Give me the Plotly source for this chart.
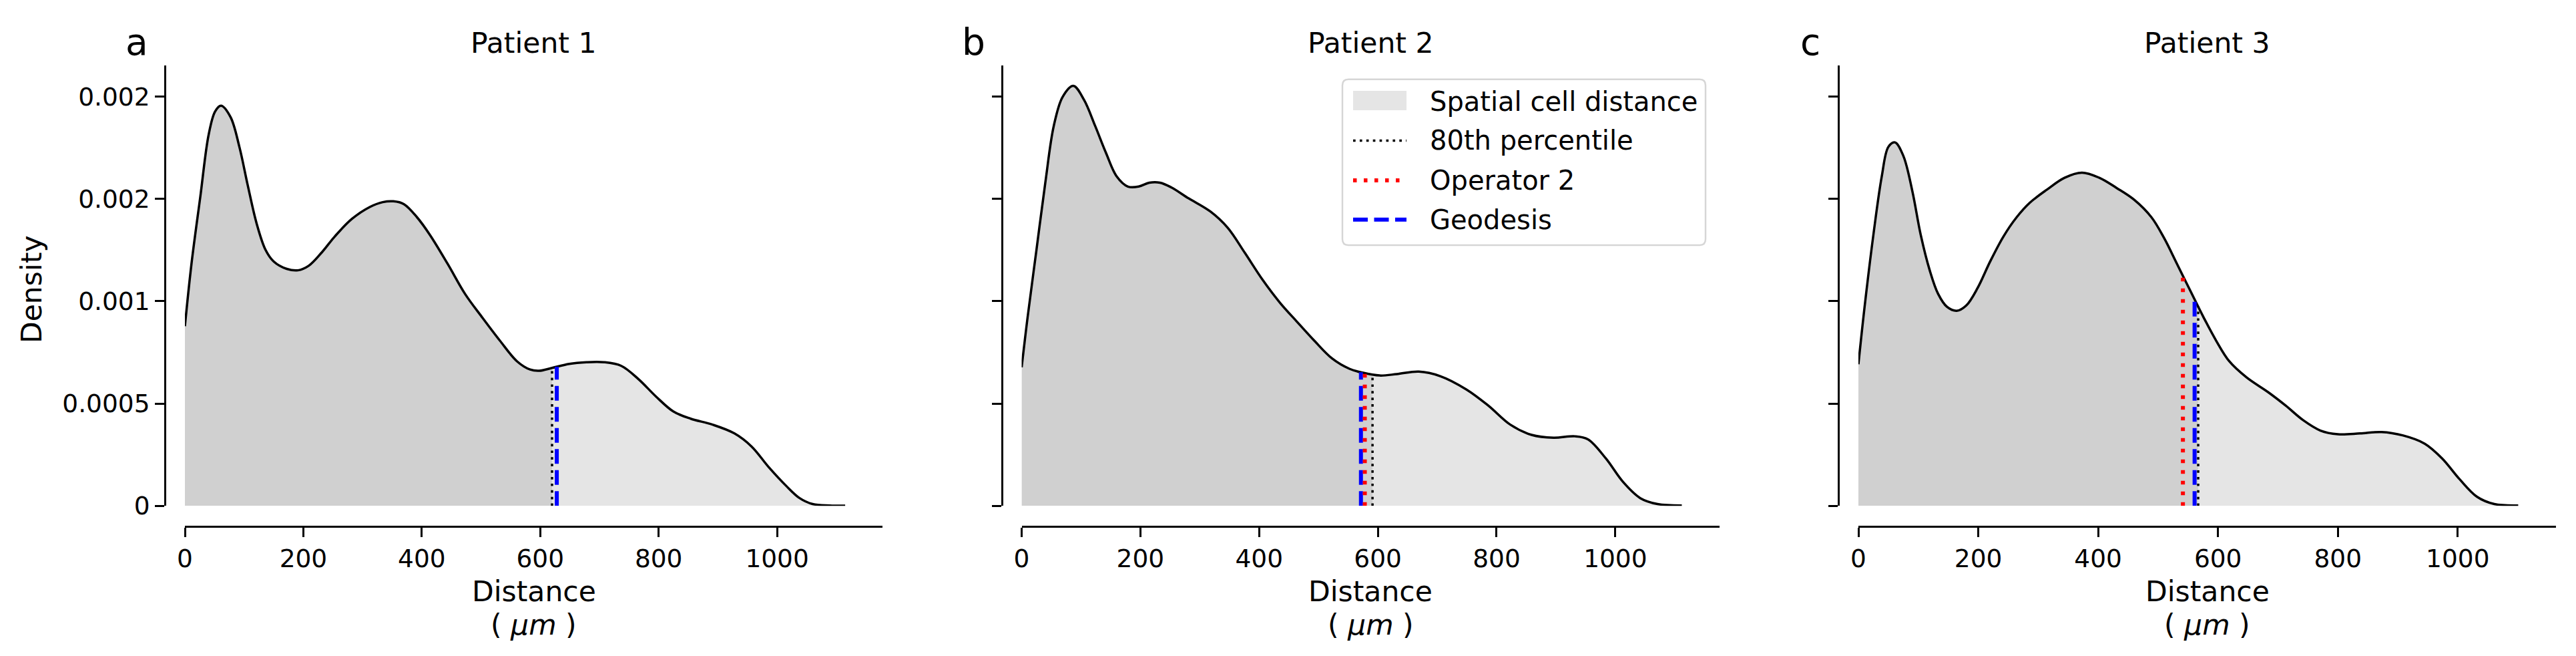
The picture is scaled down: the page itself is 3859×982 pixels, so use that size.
import plotly.graph_objects as go

# ── Data ─────────────────────────────────────────────────────────────────────
patients = ['Patient 1', 'Patient 2', 'Patient 3']
letters = ['a', 'b', 'c']

# KDE of spatial cell distance (µm) -> density
p1_x = [0, 11, 26, 40, 51, 61, 77, 92, 106, 121, 136, 150, 172, 191, 209, 231,
        253, 282, 312, 334, 352, 370, 392, 414, 444, 473, 502, 532, 561, 583,
        598, 620, 649, 678, 708, 737, 766, 796, 825, 854, 891, 928, 957, 986,
        1016, 1038, 1060, 1089, 1115]
p1_y = [8.78e-4, 11.80e-4, 15.10e-4, 18.12e-4, 19.27e-4, 19.55e-4, 19.00e-4,
        17.54e-4, 15.68e-4, 13.81e-4, 12.52e-4, 11.94e-4, 11.58e-4, 11.51e-4,
        11.73e-4, 12.38e-4, 13.16e-4, 14.02e-4, 14.60e-4, 14.84e-4, 14.88e-4,
        14.74e-4, 14.10e-4, 13.23e-4, 11.81e-4, 10.36e-4, 9.21e-4, 8.07e-4,
        7.06e-4, 6.66e-4, 6.60e-4, 6.74e-4, 6.94e-4, 7.02e-4, 7.02e-4, 6.84e-4,
        6.19e-4, 5.33e-4, 4.61e-4, 4.26e-4, 3.97e-4, 3.54e-4, 2.90e-4, 1.89e-4,
        0.96e-4, 0.38e-4, 0.09e-4, 0.02e-4, 0.01e-4]

p2_x = [0, 10, 25, 40, 54, 69, 87, 105, 124, 142, 160, 179, 197, 215, 233, 252,
        281, 318, 347, 376, 405, 435, 464, 493, 523, 552, 574, 603, 632, 669,
        705, 749, 786, 823, 859, 896, 932, 954, 984, 1013, 1042, 1071, 1112]
p2_y = [6.77e-4, 9.21e-4, 12.52e-4, 15.82e-4, 18.55e-4, 19.98e-4, 20.52e-4,
        19.84e-4, 18.55e-4, 17.25e-4, 16.10e-4, 15.60e-4, 15.60e-4, 15.79e-4,
        15.79e-4, 15.56e-4, 15.03e-4, 14.38e-4, 13.59e-4, 12.36e-4, 11.08e-4,
        9.93e-4, 8.99e-4, 8.07e-4, 7.20e-4, 6.70e-4, 6.51e-4, 6.37e-4, 6.44e-4,
        6.56e-4, 6.34e-4, 5.69e-4, 4.90e-4, 3.97e-4, 3.47e-4, 3.33e-4, 3.40e-4,
        3.25e-4, 2.32e-4, 1.17e-4, 0.38e-4, 0.09e-4, 0.02e-4]

p3_x = [0, 10, 25, 39, 50, 61, 75, 90, 104, 119, 133, 148, 164, 180, 199, 220,
        242, 264, 286, 315, 344, 373, 402, 431, 460, 489, 510, 532, 554, 576,
        597, 619, 648, 684, 713, 742, 771, 800, 837, 873, 909, 945, 974, 1003,
        1032, 1061, 1101]
p3_y = [6.92e-4, 9.64e-4, 13.24e-4, 16.10e-4, 17.54e-4, 17.76e-4, 17.10e-4,
        15.38e-4, 13.24e-4, 11.51e-4, 10.36e-4, 9.72e-4, 9.53e-4, 9.79e-4,
        10.65e-4, 11.95e-4, 13.16e-4, 14.10e-4, 14.81e-4, 15.46e-4, 16.03e-4,
        16.28e-4, 16.03e-4, 15.53e-4, 14.96e-4, 14.10e-4, 13.09e-4, 11.80e-4,
        10.50e-4, 9.21e-4, 8.07e-4, 7.06e-4, 6.27e-4, 5.55e-4, 4.90e-4, 4.19e-4,
        3.68e-4, 3.50e-4, 3.54e-4, 3.61e-4, 3.44e-4, 3.04e-4, 2.32e-4, 1.31e-4,
        0.45e-4, 0.09e-4, 0.02e-4]

curves_x = [p1_x, p2_x, p3_x]
curves_y = [p1_y, p2_y, p3_y]

# vertical markers: position and height where they meet the curve
pct80_x = [620, 591, 567]
pct80_h = [6.72e-4, 6.43e-4, 9.75e-4]
op2_x = [None, 578, 541.5]          # no Operator 2 line for patient 1
op2_h = [None, 6.49e-4, 11.20e-4]
geo_x = [628, 571.5, 561]
geo_h = [6.80e-4, 6.53e-4, 10.10e-4]

x_max = [1178, 1175, 1164]
y_max = 0.002153
x_ticks = [0, 200, 400, 600, 800, 1000]
y_ticks = [0, 0.0005, 0.001, 0.0015, 0.002]
y_ticktext = ['0', '0.0005', '0.001', '0.002', '0.002']

legend_labels = ['Spatial cell distance', '80th percentile', 'Operator 2', 'Geodesis']

# ── Geometry (pixels of the 3859x982 canvas) ─────────────────────────────────
W, H = 3859, 982
FONT = 'DejaVu Sans'
panel_left = [269, 1522.5, 2776]
panel_w = 1045
plot_top, plot_bottom = 89.6, 749.3
xspine_y = 780
yspine_off = 30

LIGHT = '#e5e5e5'
DARK = '#d0d0d0'
BLACK_DOT = dict(color='black', width=3.5, dash='3.7px,6.2px')
RED_DOT = dict(color='#ff0000', width=6, dash='5.5px,10.5px')
BLUE_DASH = dict(color='#0000ff', width=6, dash='22px,9.5px')
SPLINE = dict(shape='spline', smoothing=1.0)


def fx(px):
    return px / W


def fy(py):
    return 1 - py / H


def text(label, x, y, size, **kw):
    return dict(text=label, x=fx(x), y=fy(y), xref='paper', yref='paper',
                showarrow=False, xanchor=kw.pop('xanchor', 'center'),
                yanchor='middle', font=dict(family=FONT, size=size, color='black'),
                **kw)


fig = go.Figure()

for i in range(3):
    xa = 'x' if i == 0 else f'x{i + 1}'
    ya = 'y' if i == 0 else f'y{i + 1}'
    xs, ys = curves_x[i], curves_y[i]

    # whole area, light
    fig.add_trace(go.Scatter(
        x=xs, y=ys, mode='lines', fill='tozeroy', fillcolor=LIGHT,
        line=dict(width=0, **SPLINE),
        xaxis=xa, yaxis=ya, showlegend=False, hoverinfo='skip'))

    # area below the 80th percentile, darker
    dx = [x for x in xs if x < pct80_x[i]] + [pct80_x[i]]
    dy = [y for x, y in zip(xs, ys) if x < pct80_x[i]] + [pct80_h[i]]
    fig.add_trace(go.Scatter(
        x=dx, y=dy, mode='lines', fill='tozeroy', fillcolor=DARK,
        line=dict(width=0, **SPLINE),
        xaxis=xa, yaxis=ya, showlegend=False, hoverinfo='skip'))

    # outline
    fig.add_trace(go.Scatter(
        x=xs, y=ys, mode='lines',
        line=dict(color='black', width=3.5, **SPLINE),
        xaxis=xa, yaxis=ya, showlegend=False))

    # vertical markers
    fig.add_trace(go.Scatter(
        x=[pct80_x[i], pct80_x[i]], y=[0, pct80_h[i]], mode='lines',
        line=BLACK_DOT, xaxis=xa, yaxis=ya, showlegend=False))
    fig.add_trace(go.Scatter(
        x=[geo_x[i], geo_x[i]], y=[0, geo_h[i]], mode='lines',
        line=BLUE_DASH, xaxis=xa, yaxis=ya, showlegend=False))
    if op2_x[i] is not None:
        fig.add_trace(go.Scatter(
            x=[op2_x[i], op2_x[i]], y=[0, op2_h[i]], mode='lines',
            line=RED_DOT, xaxis=xa, yaxis=ya, showlegend=False))

# ── Axes ─────────────────────────────────────────────────────────────────────
axis_common = dict(
    showline=True, linecolor='black', linewidth=3,
    ticks='outside', ticklen=14, tickwidth=3, tickcolor='black',
    showgrid=False, zeroline=False, automargin=False,
    tickfont=dict(family=FONT, size=37.5, color='black'),
)
layout_axes = {}
for i in range(3):
    sx = '' if i == 0 else str(i + 1)
    left = panel_left[i]
    layout_axes[f'xaxis{sx}'] = dict(
        axis_common,
        domain=[fx(left), fx(left + panel_w)],
        anchor='free', position=fy(xspine_y),
        range=[0, x_max[i]], tickvals=x_ticks,
    )
    layout_axes[f'yaxis{sx}'] = dict(
        axis_common,
        domain=[fy(plot_bottom), fy(plot_top)],
        anchor='free', position=fx(left - yspine_off),
        range=[0, y_max], tickvals=y_ticks, ticktext=y_ticktext,
        showticklabels=(i == 0),
    )

# ── Text ─────────────────────────────────────────────────────────────────────
annotations = []
for i in range(3):
    cx = panel_left[i] + panel_w / 2
    annotations += [
        text(patients[i], cx, 57, 42.5),
        text(letters[i], panel_left[i] - 72, 55, 55),
        text('Distance', cx, 877, 42.5),
        text('( <i>μm</i> )', cx, 927, 42.5),
    ]
annotations.append(text('Density', 40, 425, 42.5, textangle=-90))

# ── Legend (drawn by hand, matplotlib-style box) ─────────────────────────────
lx0, ly0, lx1, ly1, r = 2003, 110.7, 2547, 359, 9
box = (f'M {fx(lx0 + r)},{fy(ly0)} L {fx(lx1 - r)},{fy(ly0)} '
       f'Q {fx(lx1)},{fy(ly0)} {fx(lx1)},{fy(ly0 + r)} '
       f'L {fx(lx1)},{fy(ly1 - r)} Q {fx(lx1)},{fy(ly1)} {fx(lx1 - r)},{fy(ly1)} '
       f'L {fx(lx0 + r)},{fy(ly1)} Q {fx(lx0)},{fy(ly1)} {fx(lx0)},{fy(ly1 - r)} '
       f'L {fx(lx0)},{fy(ly0 + r)} Q {fx(lx0)},{fy(ly0)} {fx(lx0 + r)},{fy(ly0)} Z')
shapes = [dict(type='path', path=box, xref='paper', yref='paper',
               fillcolor='rgba(255,255,255,0.8)',
               line=dict(color='#d6d6d6', width=2.5))]

row_y = [144, 202.4, 261.9, 320.8]
hx0, hx1 = 2019, 2099
shapes.append(dict(type='rect', xref='paper', yref='paper',
                   x0=fx(hx0), x1=fx(hx1), y0=fy(128), y1=fy(157),
                   fillcolor=LIGHT, line=dict(width=0)))
for style, yy in zip([BLACK_DOT, RED_DOT, BLUE_DASH], row_y[1:]):
    shapes.append(dict(type='line', xref='paper', yref='paper',
                       x0=fx(hx0), x1=fx(hx1), y0=fy(yy), y1=fy(yy),
                       line=style))
for label, yy in zip(legend_labels, row_y):
    annotations.append(text(label, 2132, yy, 40, xanchor='left'))

fig.update_layout(
    width=W, height=H,
    margin=dict(l=0, r=0, t=0, b=0, autoexpand=False),
    paper_bgcolor='white', plot_bgcolor='white',
    showlegend=False,
    annotations=annotations,
    shapes=shapes,
    **layout_axes,
)

fig.write_html("out.html")
